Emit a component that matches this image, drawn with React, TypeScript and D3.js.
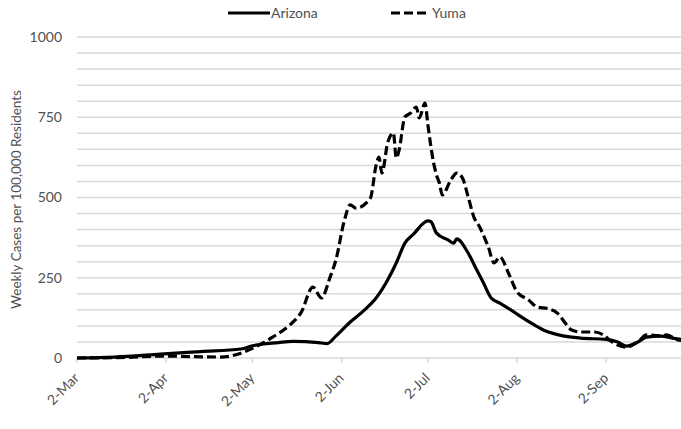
import React, { useRef, useEffect } from 'react';
import * as d3 from 'd3';

// Weekly cases per 100,000 residents (2020)
const arizonaDates = [
    '03-02', '03-15', '03-31', '04-14', '04-28', '05-02', '05-11', '05-16', '05-25', '05-28',
    '05-31', '06-05', '06-10', '06-14', '06-18', '06-21', '06-24', '06-27', '07-02', '07-03',
    '07-05', '07-09', '07-11', '07-12', '07-16', '07-19', '07-21', '07-24', '07-27', '08-01',
    '08-04', '08-08', '08-12', '08-18', '08-24', '09-02', '09-06', '09-09', '09-13', '09-16',
    '09-21', '09-25', '09-28'
];
const arizonaValues = [
    0, 3, 12, 20, 28, 38, 48, 52, 48, 45,
    68, 112, 150, 187, 243, 296, 358, 386, 427, 425,
    389, 368, 358, 371, 327, 274, 240, 187, 171, 143,
    125, 103, 84, 69, 62, 58, 50, 37, 50, 65,
    68, 62, 58
];

const yumaDates = [
    '03-02', '03-20', '03-31', '04-21', '04-28', '05-02', '05-09', '05-15', '05-19', '05-23',
    '05-26', '05-29', '05-31', '06-03', '06-05', '06-07', '06-12', '06-14', '06-15', '06-16',
    '06-18', '06-20', '06-21', '06-22', '06-24', '06-26', '06-28', '06-29', '07-01', '07-02',
    '07-04', '07-05', '07-06', '07-07', '07-10', '07-12', '07-14', '07-16', '07-18', '07-20',
    '07-22', '07-23', '07-25', '07-27', '07-30', '08-02', '08-06', '08-09', '08-13', '08-16',
    '08-18', '08-21', '08-24', '08-29', '09-01', '09-04', '09-09', '09-13', '09-16', '09-21',
    '09-23', '09-27', '09-28'
];
const yumaValues = [
    0, 2, 6, 3, 15, 30, 65, 103, 143, 221,
    187, 252, 305, 430, 477, 467, 498, 601, 626, 576,
    670, 701, 623, 648, 751, 763, 782, 748, 794, 726,
    607, 570, 545, 508, 555, 576, 561, 502, 439, 408,
    368, 346, 296, 315, 265, 206, 181, 159, 153, 140,
    118, 87, 81, 81, 72, 50, 34, 50, 72, 69,
    72, 56, 55
];

const xTickDates = ['03-02', '04-02', '05-02', '06-02', '07-02', '08-02', '09-02'];
const yTicks = [0, 250, 500, 750, 1000];

const parseDate = d3.timeParse('%Y-%m-%d');
const toDate = (s: string) => parseDate('2020-' + s) as Date;

const App: React.FC = () => {
    const svgRef = useRef<SVGSVGElement | null>(null);

    useEffect(() => {
        const width = 681;
        const height = 429;
        const margin = { top: 37, right: 0, bottom: 71, left: 77 };
        const font = 'Lato, "Open Sans", sans-serif';
        const textColor = '#505050';
        const gridColor = '#d9d9d9';

        const svg = d3.select(svgRef.current);
        svg.selectAll('*').remove();

        const x = d3.scaleTime()
            .domain([toDate('03-02'), toDate('09-28')])
            .range([margin.left, width - margin.right]);
        const y = d3.scaleLinear()
            .domain([0, 1000])
            .range([height - margin.bottom, margin.top]);

        // gridlines every 50
        svg.append('g')
            .selectAll('line')
            .data(d3.range(50, 1001, 50))
            .join('line')
            .attr('x1', margin.left)
            .attr('x2', width - margin.right)
            .attr('y1', d => y(d))
            .attr('y2', d => y(d))
            .attr('stroke', gridColor)
            .attr('stroke-width', 1.5);

        // x axis line + ticks
        svg.append('line')
            .attr('x1', margin.left)
            .attr('x2', width - margin.right)
            .attr('y1', y(0))
            .attr('y2', y(0))
            .attr('stroke', gridColor)
            .attr('stroke-width', 1.5);

        const xg = svg.append('g');
        xTickDates.forEach(s => {
            const px = x(toDate(s));
            xg.append('line')
                .attr('x1', px).attr('x2', px)
                .attr('y1', y(0)).attr('y2', y(0) + 5)
                .attr('stroke', gridColor)
                .attr('stroke-width', 1.5);
            const dt = toDate(s);
            xg.append('text')
                .attr('transform', `translate(${px + 3},${y(0) + 21}) rotate(-45)`)
                .attr('text-anchor', 'end')
                .attr('font-family', font)
                .attr('font-size', 14)
                .attr('fill', textColor)
                .text(`${dt.getDate()}-${d3.timeFormat('%b')(dt)}`);
        });

        // y tick labels
        svg.append('g')
            .selectAll('text')
            .data(yTicks)
            .join('text')
            .attr('x', 62)
            .attr('y', d => y(d))
            .attr('dy', '0.35em')
            .attr('text-anchor', 'end')
            .attr('font-family', font)
            .attr('font-size', 14)
            .attr('fill', textColor)
            .text(d => d);

        svg.append('text')
            .attr('transform', `translate(21,${(y(0) + y(1000)) / 2 + 2}) rotate(-90)`)
            .attr('text-anchor', 'middle')
            .attr('font-family', font)
            .attr('font-size', 13.5)
            .attr('fill', textColor)
            .text('Weekly Cases per 100,000 Residents');

        const line = d3.line<[Date, number]>()
            .x(d => x(d[0]))
            .y(d => y(d[1]))
            .curve(d3.curveMonotoneX);

        const arizona: [Date, number][] = arizonaDates.map((s, i) => [toDate(s), arizonaValues[i]]);
        const yuma: [Date, number][] = yumaDates.map((s, i) => [toDate(s), yumaValues[i]]);

        svg.append('path')
            .attr('d', line(yuma))
            .attr('fill', 'none')
            .attr('stroke', '#000')
            .attr('stroke-width', 3.2)
            .attr('stroke-dasharray', '9,4')
            .attr('stroke-linejoin', 'round');

        svg.append('path')
            .attr('d', line(arizona))
            .attr('fill', 'none')
            .attr('stroke', '#000')
            .attr('stroke-width', 3.2)
            .attr('stroke-linejoin', 'round');

        // legend
        const legend = svg.append('g').attr('font-family', font).attr('font-size', 14).attr('fill', textColor);
        legend.append('line')
            .attr('x1', 228).attr('x2', 270).attr('y1', 13).attr('y2', 13)
            .attr('stroke', '#000').attr('stroke-width', 3.2);
        legend.append('text').attr('x', 271).attr('y', 13).attr('dy', '0.35em').text('Arizona');
        legend.append('line')
            .attr('x1', 391).attr('x2', 430).attr('y1', 13).attr('y2', 13)
            .attr('stroke', '#000').attr('stroke-width', 3.2)
            .attr('stroke-dasharray', '9,4');
        legend.append('text').attr('x', 432).attr('y', 13).attr('dy', '0.35em').text('Yuma');
    }, []);

    return (
        <svg
            ref={svgRef}
            width={681}
            height={429}
            style={{ position: 'absolute', left: 0, top: 0, background: '#fff' }}
        />
    );
};

export default App;
